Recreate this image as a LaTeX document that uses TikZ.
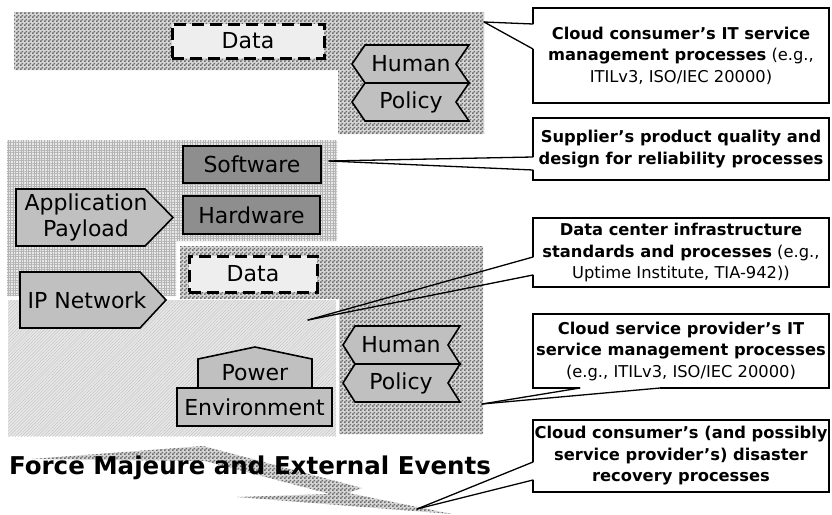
\documentclass[tikz,border=0pt]{standalone}
\usepackage{fontspec}
\setmainfont{DejaVu Sans}
\usetikzlibrary{patterns,patterns.meta}
\definecolor{chkL}{HTML}{D6D6D6}
\definecolor{chkD}{HTML}{6C6C6C}
\definecolor{gridbg}{HTML}{E8E8E8}
\definecolor{gridln}{HTML}{B4B4B4}
\definecolor{diagbg}{HTML}{E8E8E8}
\definecolor{diagln}{HTML}{C2C2C2}
\definecolor{boxlt}{HTML}{C0C0C0}
\definecolor{boxdk}{HTML}{8E8E8E}
\definecolor{datafill}{HTML}{EEEEEE}
\pgfdeclarepattern{
  name=chk,
  type=uncolored,
  bottom left={\pgfpoint{0pt}{0pt}},
  top right={\pgfpoint{4pt}{4pt}},
  tile size={\pgfpoint{4pt}{4pt}},
  code={
    \pgfpathrectangle{\pgfpoint{0pt}{0pt}}{\pgfpoint{2pt}{2pt}}
    \pgfpathrectangle{\pgfpoint{2pt}{2pt}}{\pgfpoint{2pt}{2pt}}
    \pgfusepath{fill}
  }
}
\begin{document}
\begin{tikzpicture}[x=1pt,y=-1pt,
  lbl/.style={font=\fontsize{22}{26}\selectfont, inner sep=0pt, align=center},
  shp/.style={draw=black, line width=1.6pt, line join=miter},
  lightshape/.style={shp, fill=boxlt},
  darkbox/.style={shp, fill=boxdk, font=\fontsize{22}{26}\selectfont, inner sep=0pt},
  envbox/.style={shp, fill=boxlt, font=\fontsize{22}{26}\selectfont, inner sep=0pt},
  databox/.style={draw=black, line width=3pt, dash pattern=on 12pt off 6pt, fill=datafill, font=\fontsize{22}{26}\selectfont, inner sep=0pt},
  checker/.style={preaction={fill=chkL}, pattern=chk, pattern color=chkD},
  gridarea/.style={preaction={fill=gridbg}, pattern={Hatch[angle=0,distance=2.6pt,line width=0.45pt]}, pattern color=gridln},
  diagarea/.style={preaction={fill=diagbg}, pattern={Lines[angle=45,distance=2.2pt,line width=0.45pt]}, pattern color=diagln},
  callout/.style={draw=black, line width=1.6pt, fill=white, font=\fontsize{16.3}{21.5}\selectfont, align=center, inner sep=0pt, minimum width=296pt},
  wedge/.style={draw=black, line width=1.3pt, line cap=round},
  eraser/.style={draw=white, line width=2.6pt},
]
\useasboundingbox (0,0) rectangle (832,514);
\fill[white] (0,0) rectangle (832,514);

% ---------- top group ----------
\path[checker] (14,12) -- (484,12) -- (484,134) -- (338,134) -- (338,70) -- (14,70) -- cycle;
\node[databox, minimum width=152pt, minimum height=34pt] (dataTop) at (248,41) {Data};
\draw[lightshape] (352,64) -- (365,45) -- (469,45) -- (456,64) -- (469,83) -- (365,83) -- cycle;
\draw[lightshape] (352,102) -- (365,83) -- (469,83) -- (456,102) -- (469,121) -- (365,121) -- cycle;
\node[lbl] (humanTop) at (411,64) {Human};
\node[lbl] (policyTop) at (411,102) {Policy};

% ---------- middle / lower group ----------
\path[gridarea] (7,140) -- (337,140) -- (337,241) -- (176,241) -- (176,296) -- (7,296) -- cycle;
\path[checker] (180,246) -- (483,246) -- (483,434) -- (339,434) -- (339,299) -- (180,299) -- cycle;
\path[diagarea] (8,300) -- (336,300) -- (336,436) -- (8,436) -- cycle;

\node[darkbox, minimum width=138pt, minimum height=37pt] (software) at (252,164.5) {Software};
\node[darkbox, minimum width=137pt, minimum height=38pt] (hardware) at (251.5,215) {Hardware};

\draw[lightshape] (16,189) -- (145,189) -- (173,217.5) -- (145,246) -- (16,246) -- cycle;
\node[lbl] (app) at (86,217) {Application\\Payload};
\draw[lightshape] (20,272) -- (140,272) -- (166,300) -- (140,328) -- (20,328) -- cycle;
\node[lbl] (ipnet) at (87,300) {IP Network};

\node[databox, minimum width=128pt, minimum height=36pt] (dataMid) at (253,274) {Data};

\draw[lightshape] (198,388) -- (198,359) -- (255,347) -- (312,359) -- (312,388) -- cycle;
\node[lbl] (power) at (255,373) {Power};
\node[envbox, minimum width=155pt, minimum height=38pt] (env) at (254.5,407) {Environment};

\draw[lightshape] (343,345) -- (355,326) -- (460,326) -- (448,345) -- (460,364) -- (355,364) -- cycle;
\draw[lightshape] (343,383) -- (355,364) -- (460,364) -- (448,383) -- (460,402) -- (355,402) -- cycle;
\node[lbl] (humanLow) at (401,345) {Human};
\node[lbl] (policyLow) at (401,383) {Policy};

% ---------- force majeure ----------
\path[checker] (32,459) -- (203,446) -- (362,488) -- (348,493) -- (452,514) -- (237,497) -- (330,494) -- (205,461) -- cycle;
\node[font=\bfseries\fontsize{24.5}{28}\selectfont, inner sep=0pt] (force) at (250,468) {Force Majeure and External Events};

% ---------- callouts ----------
\node[callout, minimum height=95pt] (c1) at (681,55.5) {\textbf{Cloud consumer’s IT service}\\\textbf{management processes} (e.g.,\\ITILv3, ISO/IEC 20000)};
\node[callout, minimum height=62pt] (c2) at (681,149) {\textbf{Supplier’s product quality and}\\\textbf{design for reliability processes}};
\node[callout, minimum height=69pt] (c3) at (681,252.5) {\textbf{Data center infrastructure}\\\textbf{standards and processes} (e.g.,\\Uptime Institute, TIA-942))};
\node[callout, minimum height=74pt] (c4) at (681,351) {\textbf{Cloud service provider’s IT}\\\textbf{service management processes}\\(e.g., ITILv3, ISO/IEC 20000)};
\node[callout, minimum height=72pt] (c5) at (681,456) {\textbf{Cloud consumer’s (and possibly}\\\textbf{service provider’s) disaster}\\\textbf{recovery processes}};

\coordinate (t1) at (484,22);  \coordinate (a1) at (533,24);  \coordinate (b1) at (533,49);
\coordinate (t2) at (329,161); \coordinate (a2) at (533,157); \coordinate (b2) at (533,170);
\coordinate (t3) at (308,320); \coordinate (a3) at (533,257); \coordinate (b3) at (533,275);
\coordinate (t4) at (482,404); \coordinate (a4) at (580,388); \coordinate (b4) at (660,388);
\coordinate (t5) at (417,509); \coordinate (a5) at (533,462); \coordinate (b5) at (533,480);

\foreach \i in {1,2,3,4,5} {
  \draw[eraser] (a\i) -- (b\i);
  \draw[wedge] (t\i) -- (a\i);
  \draw[wedge] (t\i) -- (b\i);
}
\end{tikzpicture}
\end{document}
